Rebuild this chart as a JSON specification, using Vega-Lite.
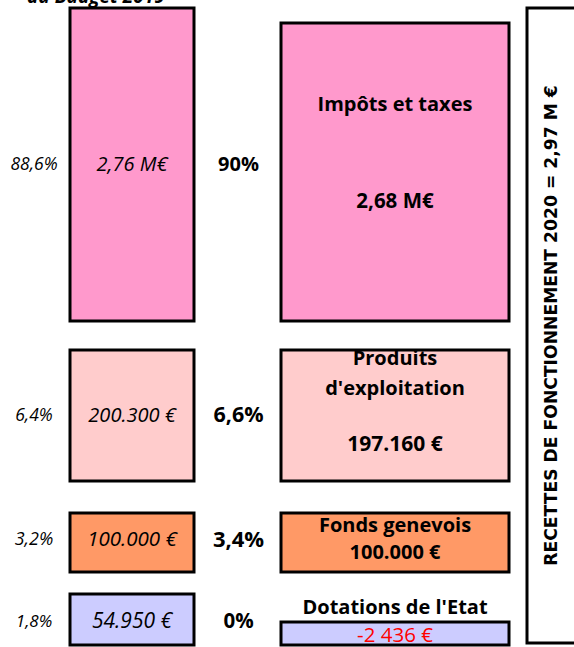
{
  "$schema": "https://vega.github.io/schema/vega-lite/v6.json",
  "padding": {"top": -13, "left": 0, "right": 0, "bottom": 0},
  "background": "white",
  "title": {"text": "au Budget 2019", "anchor": "start", "dx": 27, "fontSize": 19, "font": "Open Sans", "fontStyle": "italic", "fontWeight": "bold", "offset": 0, "color": "black"},
  "config": {"view": {"stroke": null}, "font": "Open Sans", "text": {"color": "black"}},
  "datasets": {
    "recettes": [
      {"categorie": "Impôts et taxes", "part2019": "88,6%", "budget2019": "2,76 M€", "part2020": "90%", "recettes2020": "2,68 M€"},
      {"categorie": "Produits d'exploitation", "part2019": "6,4%", "budget2019": "200.300 €", "part2020": "6,6%", "recettes2020": "197.160 €"},
      {"categorie": "Fonds genevois", "part2019": "3,2%", "budget2019": "100.000 €", "part2020": "3,4%", "recettes2020": "100.000 €"},
      {"categorie": "Dotations de l'Etat", "part2019": "1,8%", "budget2019": "54.950 €", "part2020": "0%", "recettes2020": "-2 436 €"}
    ],
    "total": [
      {"titre": "RECETTES DE FONCTIONNEMENT 2020 = 2,97 M €"}
    ]
  },
  "spacing": 14,
  "hconcat": [
    {
      "spacing": 25,
      "vconcat": [
        {
          "spacing": 0,
          "hconcat": [
            {"width": 68, "height": 313, "data": {"name": "recettes"}, "transform": [{"filter": {"field": "categorie", "equal": "Impôts et taxes"}}],
             "mark": {"type": "text", "fontStyle": "italic", "fontSize": 17.5}, "encoding": {"text": {"field": "part2019"}}},
            {"width": 124, "height": 313, "data": {"name": "recettes"}, "transform": [{"filter": {"field": "categorie", "equal": "Impôts et taxes"}}],
             "layer": [
               {"mark": {"type": "rect", "stroke": "black", "strokeWidth": 3}, "encoding": {"color": {"field": "categorie", "type": "nominal", "scale": {"domain": ["Impôts et taxes", "Produits d'exploitation", "Fonds genevois", "Dotations de l'Etat"], "range": ["#FF99CC", "#FFCCCC", "#FF9966", "#CCCCFF"]}, "legend": null}}},
               {"mark": {"type": "text", "fontStyle": "italic", "fontSize": 20}, "encoding": {"text": {"field": "budget2019"}}}
             ]},
            {"width": 83, "height": 313, "data": {"name": "recettes"}, "transform": [{"filter": {"field": "categorie", "equal": "Impôts et taxes"}}],
             "mark": {"type": "text", "fontWeight": "bold", "fontSize": 20, "dx": 1}, "encoding": {"text": {"field": "part2020"}}},
            {"width": 228, "height": 313, "data": {"name": "recettes"}, "transform": [{"filter": {"field": "categorie", "equal": "Impôts et taxes"}}],
             "layer": [
               {"mark": {"type": "rect", "stroke": "black", "strokeWidth": 3, "yOffset": 15}, "encoding": {"color": {"field": "categorie", "type": "nominal", "scale": {"domain": ["Impôts et taxes", "Produits d'exploitation", "Fonds genevois", "Dotations de l'Etat"], "range": ["#FF99CC", "#FFCCCC", "#FF9966", "#CCCCFF"]}, "legend": null}}},
               {"mark": {"type": "text", "fontWeight": "bold", "fontSize": 20, "dy": -60}, "encoding": {"text": {"field": "categorie"}}},
               {"mark": {"type": "text", "fontWeight": "bold", "fontSize": 20.5, "dy": 37}, "encoding": {"text": {"field": "recettes2020"}}}
             ]}
          ]
        },
        {
          "spacing": 28,
          "vconcat": [
            {
              "spacing": 0,
              "hconcat": [
                {"width": 68, "height": 131, "data": {"name": "recettes"}, "transform": [{"filter": {"field": "categorie", "equal": "Produits d'exploitation"}}],
                 "mark": {"type": "text", "fontStyle": "italic", "fontSize": 17.5}, "encoding": {"text": {"field": "part2019"}}},
                {"width": 124, "height": 131, "data": {"name": "recettes"}, "transform": [{"filter": {"field": "categorie", "equal": "Produits d'exploitation"}}],
                 "layer": [
                   {"mark": {"type": "rect", "stroke": "black", "strokeWidth": 3}, "encoding": {"color": {"field": "categorie", "type": "nominal", "scale": {"domain": ["Impôts et taxes", "Produits d'exploitation", "Fonds genevois", "Dotations de l'Etat"], "range": ["#FF99CC", "#FFCCCC", "#FF9966", "#CCCCFF"]}, "legend": null}}},
                   {"mark": {"type": "text", "fontStyle": "italic", "fontSize": 20}, "encoding": {"text": {"field": "budget2019"}}}
                 ]},
                {"width": 83, "height": 131, "data": {"name": "recettes"}, "transform": [{"filter": {"field": "categorie", "equal": "Produits d'exploitation"}}],
                 "mark": {"type": "text", "fontWeight": "bold", "fontSize": 21.5, "dx": 1}, "encoding": {"text": {"field": "part2020"}}},
                {"width": 228, "height": 131, "data": {"name": "recettes"}, "transform": [{"filter": {"field": "categorie", "equal": "Produits d'exploitation"}}],
                 "layer": [
                   {"mark": {"type": "rect", "stroke": "black", "strokeWidth": 3}, "encoding": {"color": {"field": "categorie", "type": "nominal", "scale": {"domain": ["Impôts et taxes", "Produits d'exploitation", "Fonds genevois", "Dotations de l'Etat"], "range": ["#FF99CC", "#FFCCCC", "#FF9966", "#CCCCFF"]}, "legend": null}}},
                   {"mark": {"type": "text", "fontWeight": "bold", "fontSize": 20, "dy": -57, "lineBreak": " ", "lineHeight": 30}, "encoding": {"text": {"field": "categorie"}}},
                   {"mark": {"type": "text", "fontWeight": "bold", "fontSize": 21, "dy": 29}, "encoding": {"text": {"field": "recettes2020"}}}
                 ]}
              ]
            },
            {
              "spacing": 18,
              "vconcat": [
                {
                  "spacing": 0,
                  "hconcat": [
                    {"width": 68, "height": 59, "data": {"name": "recettes"}, "transform": [{"filter": {"field": "categorie", "equal": "Fonds genevois"}}],
                     "mark": {"type": "text", "fontStyle": "italic", "fontSize": 18, "dy": -2.5}, "encoding": {"text": {"field": "part2019"}}},
                    {"width": 124, "height": 59, "data": {"name": "recettes"}, "transform": [{"filter": {"field": "categorie", "equal": "Fonds genevois"}}],
                     "layer": [
                       {"mark": {"type": "rect", "stroke": "black", "strokeWidth": 3}, "encoding": {"color": {"field": "categorie", "type": "nominal", "scale": {"domain": ["Impôts et taxes", "Produits d'exploitation", "Fonds genevois", "Dotations de l'Etat"], "range": ["#FF99CC", "#FFCCCC", "#FF9966", "#CCCCFF"]}, "legend": null}}},
                       {"mark": {"type": "text", "fontStyle": "italic", "fontSize": 20.5, "dy": -2.5}, "encoding": {"text": {"field": "budget2019"}}}
                     ]},
                    {"width": 83, "height": 59, "data": {"name": "recettes"}, "transform": [{"filter": {"field": "categorie", "equal": "Fonds genevois"}}],
                     "mark": {"type": "text", "fontWeight": "bold", "fontSize": 22, "dy": -2.5, "dx": 1}, "encoding": {"text": {"field": "part2020"}}},
                    {"width": 228, "height": 59, "data": {"name": "recettes"}, "transform": [{"filter": {"field": "categorie", "equal": "Fonds genevois"}}],
                     "layer": [
                       {"mark": {"type": "rect", "stroke": "black", "strokeWidth": 3}, "encoding": {"color": {"field": "categorie", "type": "nominal", "scale": {"domain": ["Impôts et taxes", "Produits d'exploitation", "Fonds genevois", "Dotations de l'Etat"], "range": ["#FF99CC", "#FFCCCC", "#FF9966", "#CCCCFF"]}, "legend": null}}},
                       {"mark": {"type": "text", "fontWeight": "bold", "fontSize": 20, "dy": -16.5}, "encoding": {"text": {"field": "categorie"}}},
                       {"mark": {"type": "text", "fontWeight": "bold", "fontSize": 20, "dy": 10}, "encoding": {"text": {"field": "recettes2020"}}}
                     ]}
                  ]
                },
                {
                  "spacing": 0,
                  "hconcat": [
                    {"width": 68, "height": 51, "data": {"name": "recettes"}, "transform": [{"filter": {"field": "categorie", "equal": "Dotations de l'Etat"}}],
                     "mark": {"type": "text", "fontStyle": "italic", "fontSize": 17, "dy": 2.5}, "encoding": {"text": {"field": "part2019"}}},
                    {"width": 124, "height": 51, "data": {"name": "recettes"}, "transform": [{"filter": {"field": "categorie", "equal": "Dotations de l'Etat"}}],
                     "layer": [
                       {"mark": {"type": "rect", "stroke": "black", "strokeWidth": 3}, "encoding": {"color": {"field": "categorie", "type": "nominal", "scale": {"domain": ["Impôts et taxes", "Produits d'exploitation", "Fonds genevois", "Dotations de l'Etat"], "range": ["#FF99CC", "#FFCCCC", "#FF9966", "#CCCCFF"]}, "legend": null}}},
                       {"mark": {"type": "text", "fontStyle": "italic", "fontSize": 21, "dy": 2.5}, "encoding": {"text": {"field": "budget2019"}}}
                     ]},
                    {"width": 83, "height": 51, "data": {"name": "recettes"}, "transform": [{"filter": {"field": "categorie", "equal": "Dotations de l'Etat"}}],
                     "mark": {"type": "text", "fontWeight": "bold", "fontSize": 20.5, "dy": 2.5, "dx": 1}, "encoding": {"text": {"field": "part2020"}}},
                    {"width": 228, "height": 51, "data": {"name": "recettes"}, "transform": [{"filter": {"field": "categorie", "equal": "Dotations de l'Etat"}}],
                     "layer": [
                       {"mark": {"type": "rect", "stroke": "black", "strokeWidth": 3, "yOffset": 28}, "encoding": {"color": {"field": "categorie", "type": "nominal", "scale": {"domain": ["Impôts et taxes", "Produits d'exploitation", "Fonds genevois", "Dotations de l'Etat"], "range": ["#FF99CC", "#FFCCCC", "#FF9966", "#CCCCFF"]}, "legend": null}}},
                       {"mark": {"type": "text", "fontWeight": "bold", "fontSize": 20, "dy": -11.5}, "encoding": {"text": {"field": "categorie"}}},
                       {"mark": {"type": "text", "fontSize": 20.5, "color": "#FF0000", "dy": 16}, "encoding": {"text": {"field": "recettes2020"}}}
                     ]}
                  ]
                }
              ]
            }
          ]
        }
      ]
    },
    {
      "width": 60, "height": 635, "data": {"name": "total"},
      "layer": [
        {"mark": {"type": "rect", "fill": "white", "stroke": "black", "strokeWidth": 3}, "encoding": {}},
        {"mark": {"type": "text", "font": "DejaVu Sans", "fontWeight": "bold", "fontSize": 17.2, "angle": 270, "dy": -5}, "encoding": {"text": {"field": "titre"}}}
      ]
    }
  ]
}
